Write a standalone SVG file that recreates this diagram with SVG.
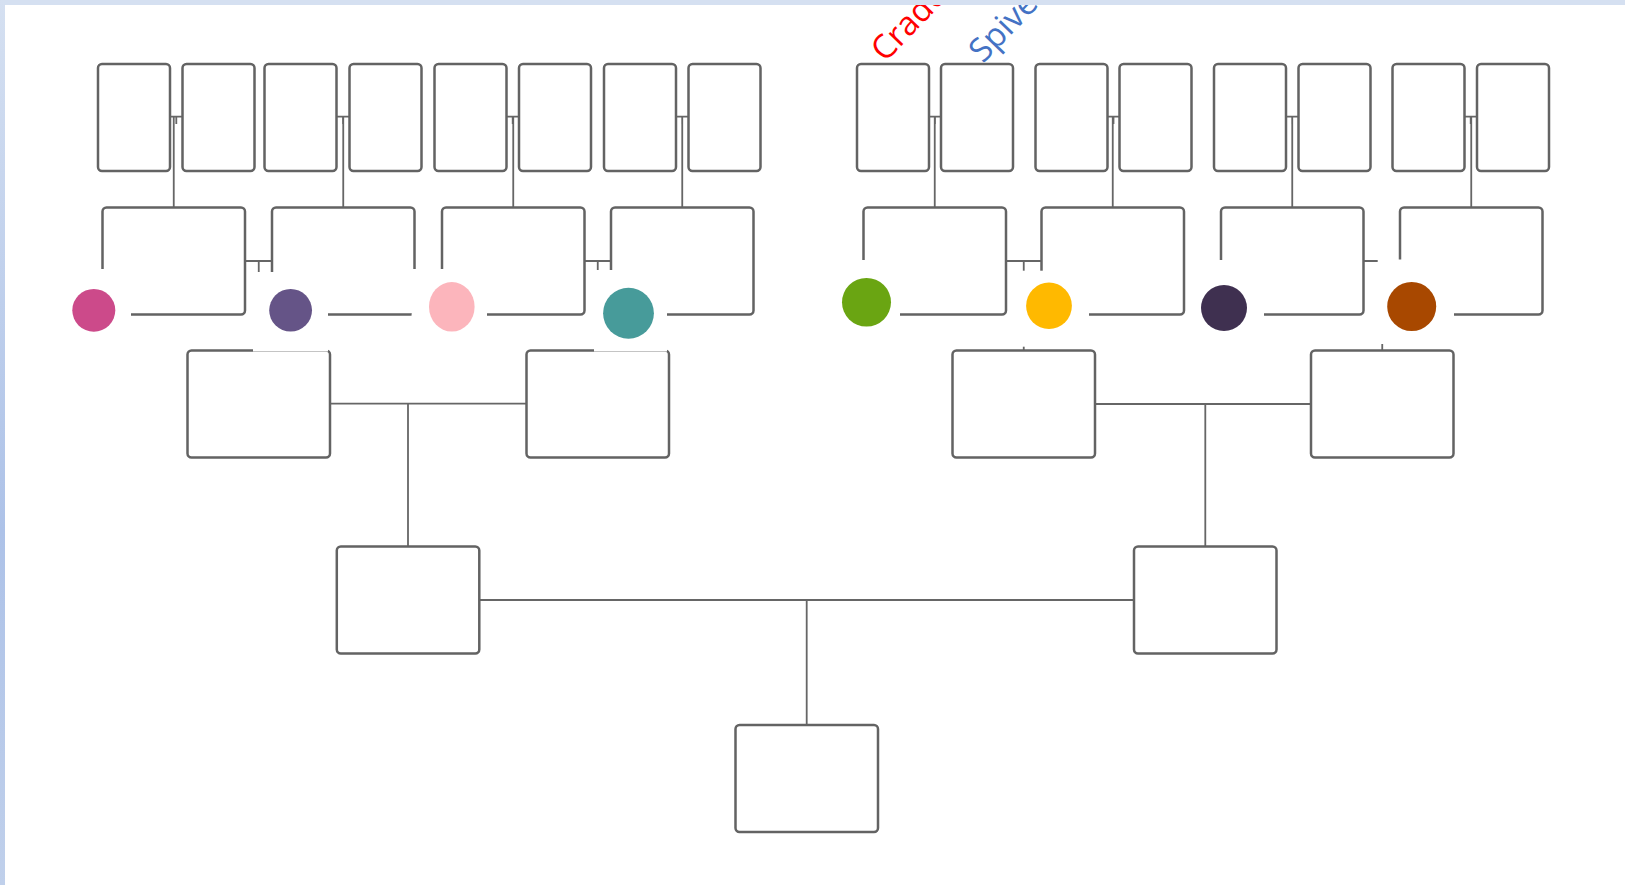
<svg xmlns="http://www.w3.org/2000/svg" width="1625" height="885" viewBox="0 0 1625 885">
<defs>
<linearGradient id="lb" x1="0" y1="0" x2="0" y2="1">
<stop offset="0" stop-color="#d5e0f1"/>
<stop offset="0.6" stop-color="#adc2e8"/>
<stop offset="1" stop-color="#c0d0eb"/>
</linearGradient>
<style>
.box{fill:#fff;stroke:#636363;stroke-width:2.5}
.con{fill:none;stroke:#666;stroke-width:1.8}
.mask{fill:#fff}
.lbl{font-family:"Open Sans","Noto Sans",sans-serif;font-size:33px}
</style>
</defs>
<rect x="0" y="0" width="1625" height="885" fill="#fff"/>
<g id="connectors">
<path class="con" d="M170 116.7H182.5M176.3 116.7V124M173.75 116.7V207.5"/>
<path class="con" d="M336.5 116.7H349.5M343 116.7V124M343.25 116.7V207.5"/>
<path class="con" d="M506.5 116.7H519M512.7 116.7V124M513.25 116.7V207.5"/>
<path class="con" d="M676 116.7H688.5M682.2 116.7V124M682.25 116.7V207.5"/>
<path class="con" d="M929 116.7H941M935 116.7V124M934.75 116.7V207.5"/>
<path class="con" d="M1107.5 116.7H1119.5M1113.5 116.7V124M1112.75 116.7V207.5"/>
<path class="con" d="M1286 116.7H1298.5M1292.2 116.7V124M1292.25 116.7V207.5"/>
<path class="con" d="M1464.5 116.7H1477M1470.7 116.7V124M1471.25 116.7V207.5"/>
<path class="con" d="M245 261H272M258.75 261V350.5"/>
<path class="con" d="M584.5 261H611M597.75 261V350.5"/>
<path class="con" d="M1006 261H1041.5M1023.75 261V350.5"/>
<path class="con" d="M1363.5 261H1400M1382.25 261V350.5"/>
<path class="con" d="M330 403.7H526.5M408 403.7V546.5"/>
<path class="con" d="M1095 404H1311M1205.3 404V546.5"/>
<path class="con" d="M479.3 600H1134M806.7 600V725"/>
</g>
<g id="n1"><rect class="box" x="98" y="64" width="72" height="107" rx="4"/></g>
<g id="n2"><rect class="box" x="182.5" y="64" width="72" height="107" rx="4"/></g>
<g id="n3"><rect class="box" x="264.5" y="64" width="72" height="107" rx="4"/></g>
<g id="n4"><rect class="box" x="349.5" y="64" width="72" height="107" rx="4"/></g>
<g id="n5"><rect class="box" x="434.5" y="64" width="72" height="107" rx="4"/></g>
<g id="n6"><rect class="box" x="519" y="64" width="72" height="107" rx="4"/></g>
<g id="n7"><rect class="box" x="604" y="64" width="72" height="107" rx="4"/></g>
<g id="n8"><rect class="box" x="688.5" y="64" width="72" height="107" rx="4"/></g>
<g id="n9"><rect class="box" x="857" y="64" width="72" height="107" rx="4"/></g>
<g id="n10"><rect class="box" x="941" y="64" width="72" height="107" rx="4"/></g>
<g id="n11"><rect class="box" x="1035.5" y="64" width="72" height="107" rx="4"/></g>
<g id="n12"><rect class="box" x="1119.5" y="64" width="72" height="107" rx="4"/></g>
<g id="n13"><rect class="box" x="1214" y="64" width="72" height="107" rx="4"/></g>
<g id="n14"><rect class="box" x="1298.5" y="64" width="72" height="107" rx="4"/></g>
<g id="n15"><rect class="box" x="1392.5" y="64" width="72" height="107" rx="4"/></g>
<g id="n16"><rect class="box" x="1477" y="64" width="72" height="107" rx="4"/></g>
<g id="p1"><rect class="box" x="102.5" y="207.5" width="142.5" height="107" rx="4"/></g>
<g id="p2"><rect class="box" x="272" y="207.5" width="142.5" height="107" rx="4"/></g>
<g id="p3"><rect class="box" x="442" y="207.5" width="142.5" height="107" rx="4"/></g>
<g id="p4"><rect class="box" x="611" y="207.5" width="142.5" height="107" rx="4"/></g>
<g id="p5"><rect class="box" x="863.5" y="207.5" width="142.5" height="107" rx="4"/></g>
<g id="p6"><rect class="box" x="1041.5" y="207.5" width="142.5" height="107" rx="4"/></g>
<g id="p7"><rect class="box" x="1221" y="207.5" width="142.5" height="107" rx="4"/></g>
<g id="p8"><rect class="box" x="1400" y="207.5" width="142.5" height="107" rx="4"/></g>
<g id="g1"><rect class="box" x="187.5" y="350.5" width="142.5" height="107" rx="4"/></g>
<g id="g2"><rect class="box" x="526.5" y="350.5" width="142.5" height="107" rx="4"/></g>
<g id="g3"><rect class="box" x="952.5" y="350.5" width="142.5" height="107" rx="4"/></g>
<g id="g4"><rect class="box" x="1311" y="350.5" width="142.5" height="107" rx="4"/></g>
<g id="f1"><rect class="box" x="336.8" y="546.5" width="142.5" height="107" rx="4"/></g>
<g id="f2"><rect class="box" x="1134" y="546.5" width="142.5" height="107" rx="4"/></g>
<g id="root"><rect class="box" x="735.5" y="725" width="142.5" height="107" rx="4"/></g>
<g id="dot-magenta"><rect class="mask" x="57" y="269" width="74" height="81"/><ellipse cx="93.8" cy="310.3" rx="21.5" ry="21.4" fill="#cc4a8a"/></g>
<g id="dot-purple"><rect class="mask" x="253" y="272" width="75" height="79.5"/><ellipse cx="290.6" cy="310.3" rx="21.4" ry="21.3" fill="#655487"/></g>
<g id="dot-pink"><rect class="mask" x="411.6" y="269" width="75.4" height="76"/><ellipse cx="451.8" cy="306.8" rx="22.8" ry="24.8" fill="#fcb5bc"/></g>
<g id="dot-teal"><rect class="mask" x="594" y="270" width="73" height="81.5"/><ellipse cx="628.5" cy="313.2" rx="25.4" ry="25.5" fill="#479b9a"/></g>
<g id="dot-green"><rect class="mask" x="829" y="260" width="71" height="85"/><ellipse cx="866.5" cy="302.3" rx="24.5" ry="24.3" fill="#6aa512"/></g>
<g id="dot-yellow"><rect class="mask" x="1010" y="270.7" width="79" height="76"/><ellipse cx="1049" cy="305.8" rx="22.9" ry="23.2" fill="#ffb900"/></g>
<g id="dot-dark"><rect class="mask" x="1186" y="260" width="78" height="85"/><ellipse cx="1224" cy="308" rx="23" ry="23" fill="#3f3050"/></g>
<g id="dot-brown"><rect class="mask" x="1377.7" y="259.5" width="76.3" height="84.5"/><ellipse cx="1411.7" cy="306.5" rx="24.5" ry="24.5" fill="#a84800"/></g>
<text class="lbl" x="885" y="63" fill="#ff0000" transform="rotate(-46 885 63)">Crado</text>
<text class="lbl" x="983" y="64" fill="#4472c4" transform="rotate(-46 983 64)">Spive</text>
<rect x="0" y="0" width="1625" height="5" fill="#d5e0f1"/>
<rect x="0" y="0" width="5" height="885" fill="url(#lb)"/>
</svg>
